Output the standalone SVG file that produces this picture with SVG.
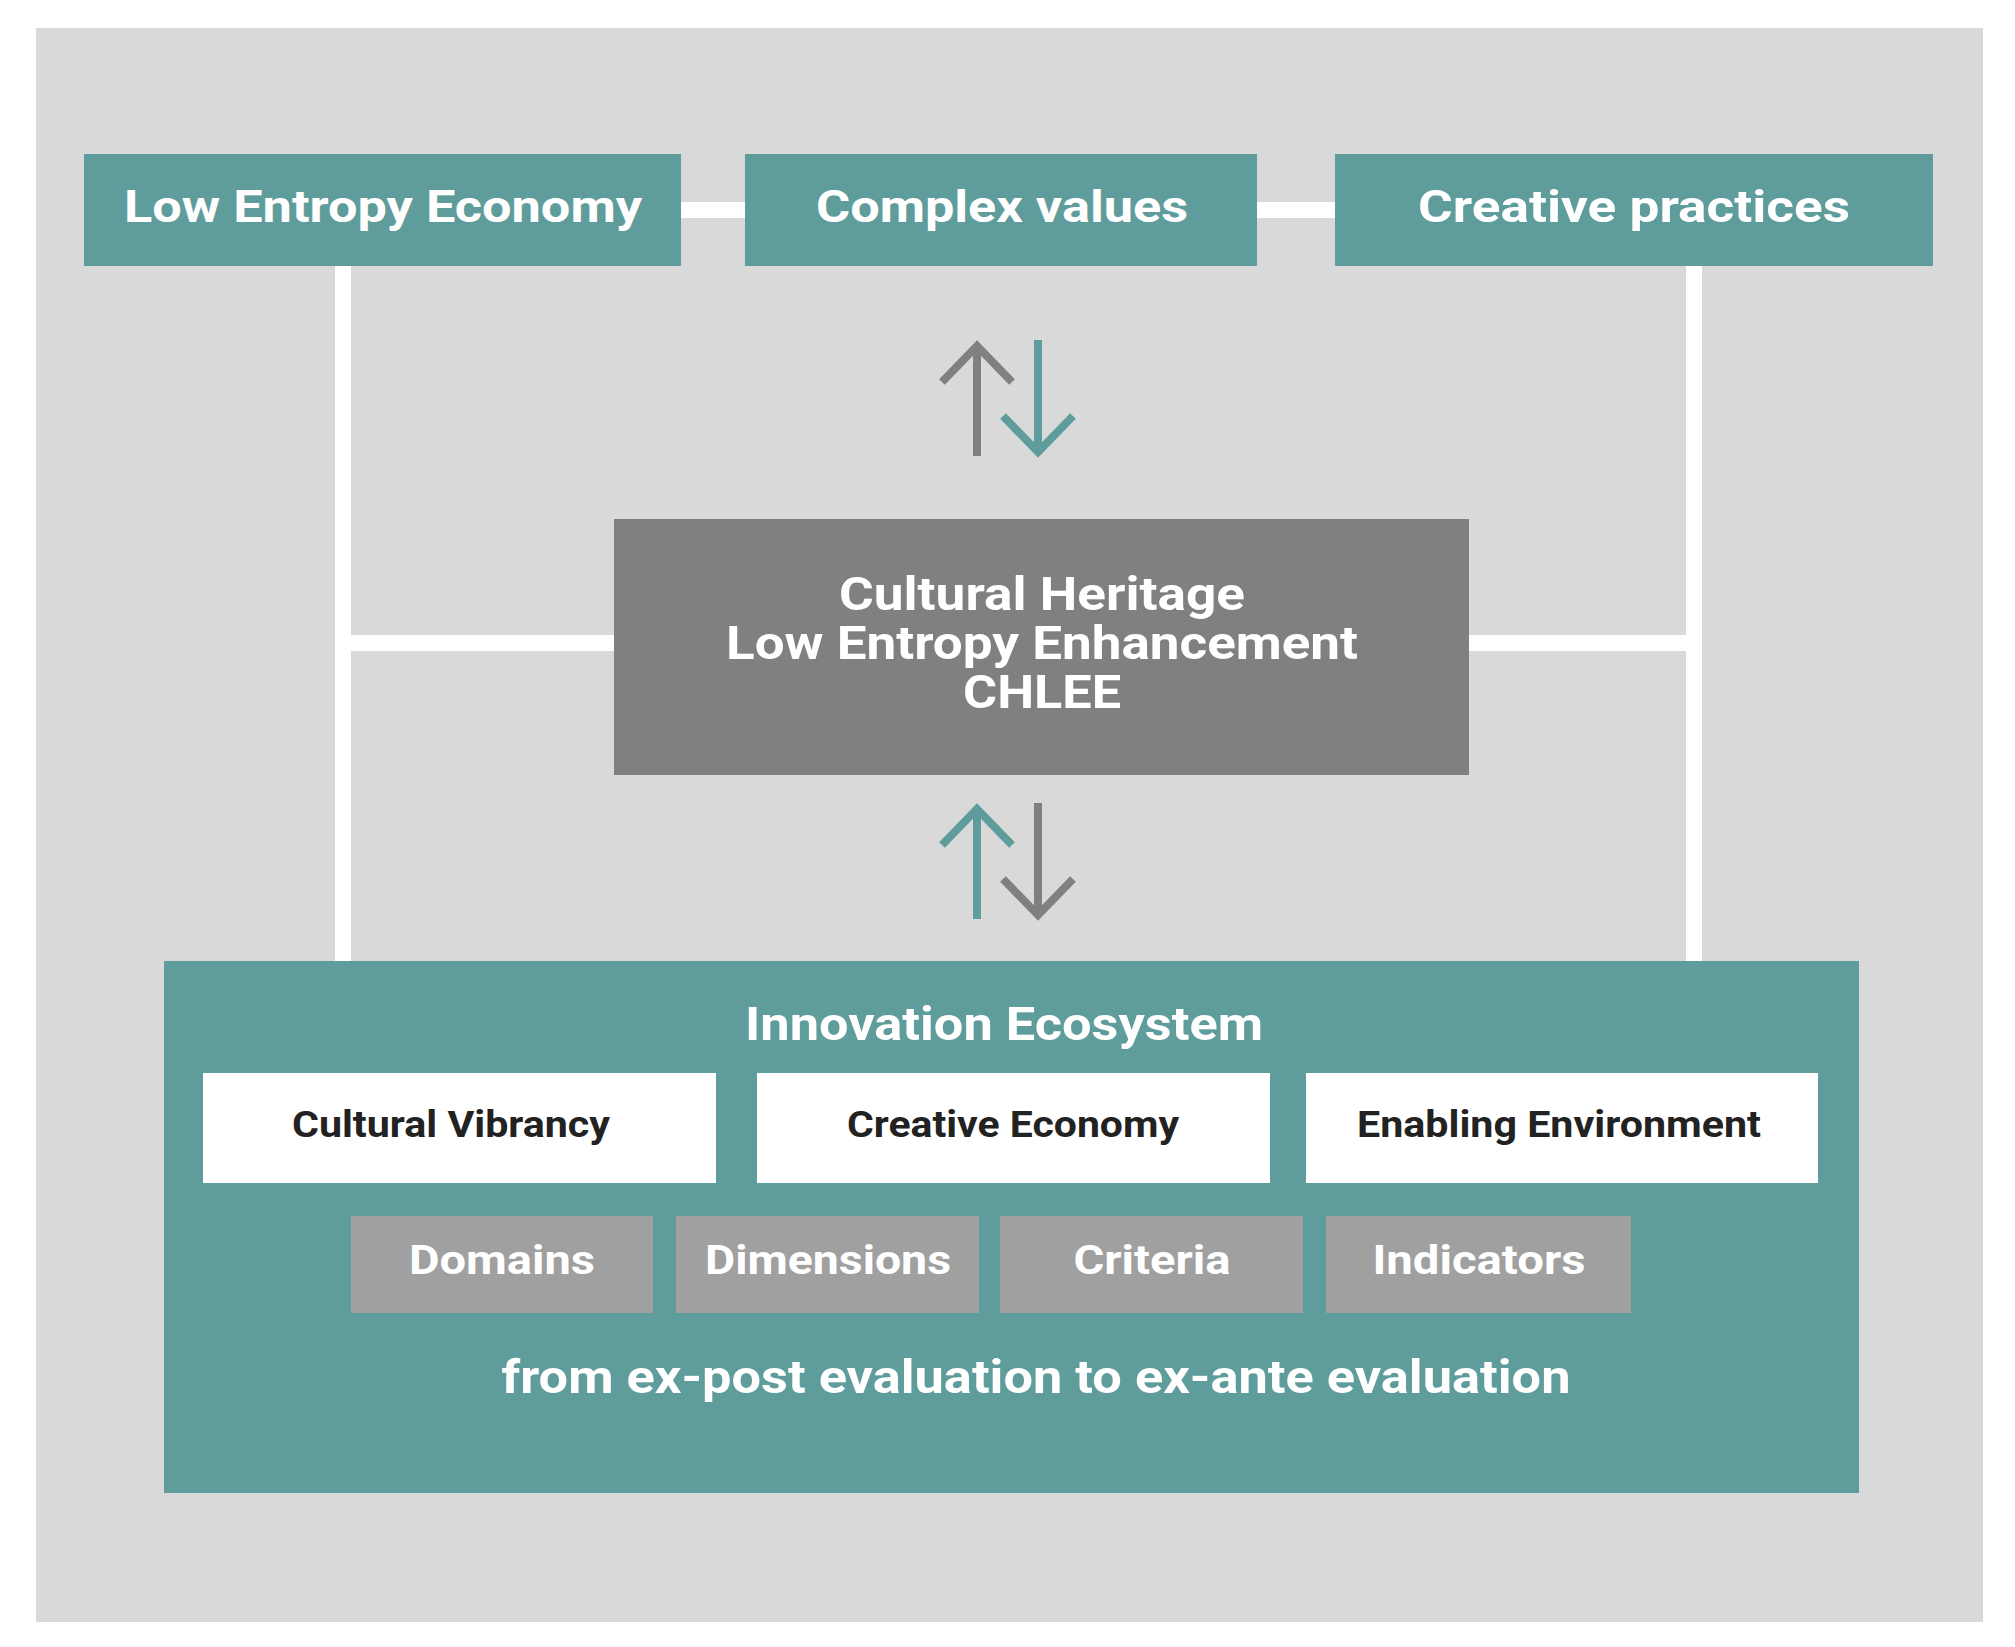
<svg xmlns="http://www.w3.org/2000/svg" width="2015" height="1647" viewBox="0 0 2015 1647">
<defs><style>
.t{font-family:Roboto,"Liberation Sans",sans-serif;font-weight:bold;text-anchor:middle}
.teal{fill:#5f9c9c}.w{fill:#fff}
.ln{stroke:#fff;stroke-width:16;fill:none}
</style></defs>
<rect x="0" y="0" width="2015" height="1647" fill="#fff"/>
<rect x="36" y="28" width="1947" height="1594" fill="#d9d9d9"/>
<g id="connectors">
<path class="ln" d="M343 266V961M1694 266V961M343 643H614M1469 643H1694M681 210H745M1257 210H1335"/>
<g stroke-width="8" fill="none" stroke-linejoin="miter">
<path d="M977 456V350M942 382L977 346L1012 382" stroke="#808080"/>
<path d="M1038 340V448M1003 416L1038 452L1073 416" stroke="#5f9c9c"/>
<path d="M977 919V813M942 845L977 809L1012 845" stroke="#5f9c9c"/>
<path d="M1038 803V911M1003 879L1038 915L1073 879" stroke="#808080"/>
</g>
</g>
<g id="n1"><rect class="teal" x="84" y="154" width="597" height="112"/><text class="t w" x="383" y="222" font-size="44" textLength="518" lengthAdjust="spacingAndGlyphs">Low Entropy Economy</text></g>
<g id="n2"><rect class="teal" x="745" y="154" width="512" height="112"/><text class="t w" x="1002" y="222" font-size="44" textLength="372" lengthAdjust="spacingAndGlyphs">Complex values</text></g>
<g id="n3"><rect class="teal" x="1335" y="154" width="598" height="112"/><text class="t w" x="1634" y="222" font-size="44" textLength="432" lengthAdjust="spacingAndGlyphs">Creative practices</text></g>
<g id="chlee"><rect x="614" y="519" width="855" height="256" fill="#808080"/>
<text class="t w" font-size="46" x="1042" y="610" textLength="406" lengthAdjust="spacingAndGlyphs">Cultural Heritage</text>
<text class="t w" font-size="46" x="1042" y="659" textLength="632" lengthAdjust="spacingAndGlyphs">Low Entropy Enhancement</text>
<text class="t w" font-size="46" x="1042" y="708" textLength="158" lengthAdjust="spacingAndGlyphs">CHLEE</text></g>
<g id="eco"><rect class="teal" x="164" y="961" width="1695" height="532"/>
<text class="t w" font-size="46" x="1004" y="1040" textLength="518" lengthAdjust="spacingAndGlyphs">Innovation Ecosystem</text>
<text class="t w" font-size="46" x="1036" y="1393" textLength="1069" lengthAdjust="spacingAndGlyphs">from ex-post evaluation to ex-ante evaluation</text></g>
<g id="cv"><rect x="203" y="1073" width="513" height="110" fill="#fff"/><text class="t" x="451" y="1137" font-size="36" fill="#222" textLength="318" lengthAdjust="spacingAndGlyphs">Cultural Vibrancy</text></g>
<g id="ce"><rect x="757" y="1073" width="513" height="110" fill="#fff"/><text class="t" x="1013" y="1137" font-size="36" fill="#222" textLength="332" lengthAdjust="spacingAndGlyphs">Creative Economy</text></g>
<g id="ee"><rect x="1306" y="1073" width="512" height="110" fill="#fff"/><text class="t" x="1559" y="1137" font-size="36" fill="#222" textLength="404" lengthAdjust="spacingAndGlyphs">Enabling Environment</text></g>
<g id="dom"><rect x="351" y="1216" width="302" height="97" fill="#a0a0a0"/><text class="t w" x="502" y="1274" font-size="40" textLength="186" lengthAdjust="spacingAndGlyphs">Domains</text></g>
<g id="dim"><rect x="676" y="1216" width="303" height="97" fill="#a0a0a0"/><text class="t w" x="828" y="1274" font-size="40" textLength="246" lengthAdjust="spacingAndGlyphs">Dimensions</text></g>
<g id="cri"><rect x="1000" y="1216" width="303" height="97" fill="#a0a0a0"/><text class="t w" x="1152" y="1274" font-size="40" textLength="157" lengthAdjust="spacingAndGlyphs">Criteria</text></g>
<g id="ind"><rect x="1326" y="1216" width="305" height="97" fill="#a0a0a0"/><text class="t w" x="1479" y="1274" font-size="40" textLength="213" lengthAdjust="spacingAndGlyphs">Indicators</text></g>
</svg>
